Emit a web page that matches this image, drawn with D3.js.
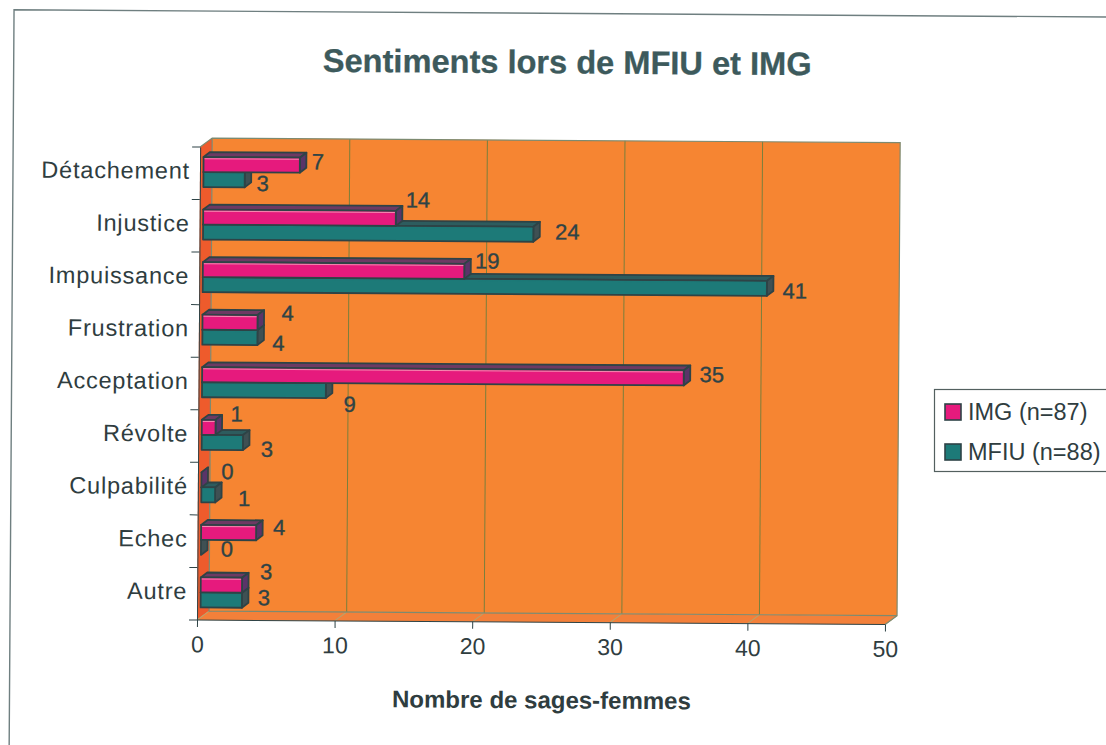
<!DOCTYPE html>
<html><head><meta charset="utf-8">
<script src="https://cdn.jsdelivr.net/npm/d3@7"></script>
<style>html,body{margin:0;background:#fff}svg{display:block}text{font-family:"Liberation Sans",Arial,sans-serif}</style>
</head><body><svg id="c" width="1106" height="745"></svg>
<script>
const categories=["Détachement","Injustice","Impuissance","Frustration","Acceptation","Révolte","Culpabilité","Echec","Autre"];
const imgValues=[7,14,19,4,35,1,0,4,3];
const mfiuValues=[3,24,41,4,9,3,1,0,3];
const seriesNames=["IMG (n=87)","MFIU (n=88)"];
const xTicks=[0,10,20,30,40,50];
// label nudges relative to the default bar-end placement
const imgNudge=[[0,-3],[4,-18],[5,-10],[12,-9],[10,-3],[3,-13],[8,-8],[5,-5],[6,-13]];
const mfiuNudge=[[0,4],[16,-2],[10,3],[3,6],[6,14],[6,7],[11,4],[8,2],[4,-2]];

const svg=d3.select("#c");
const root=svg.append("g").attr("transform","rotate(0.38 197 620)");
const L=197,R=885,T=147,B=620,DX=12,DY=-9;
const x=d3.scaleLinear().domain([0,50]).range([L,R]);
const y=d3.scaleBand().domain(categories).range([T,B]);
const ink="#2e4346";
const textInk="#2f3d3f";

// page frame
root.append("path").attr("d","M1200 11H10V760").attr("fill","none").attr("stroke","#6f7f80").attr("stroke-width",1.4);

// title
root.append("text").attr("x",563.5).attr("y",71).attr("text-anchor","middle").attr("font-size",32.6).attr("font-weight","bold")
 .attr("fill","#3d5a5c").attr("stroke","#3d5a5c").attr("stroke-width",.3).text("Sentiments lors de MFIU et IMG");

// 3D walls
const poly=pts=>pts.map(p=>p.join(",")).join(" ");
root.append("polygon").attr("points",poly([[L+DX,T+DY],[R+DX,T+DY],[R+DX,B+DY],[L+DX,B+DY]])).attr("fill","#f68532");
root.append("polygon").attr("points",poly([[L,T],[L+DX,T+DY],[L+DX,B+DY],[L,B]])).attr("fill","#ee5b2c");
root.append("polygon").attr("points",poly([[L,B],[L+DX,B+DY],[R+DX,B+DY],[R,B]])).attr("fill","#f3803a");
// gridlines on the back wall and floor
root.append("g").selectAll("line").data(xTicks.slice(1,-1)).join("line")
 .attr("x1",d=>x(d)+DX).attr("x2",d=>x(d)+DX).attr("y1",T+DY).attr("y2",B+DY).attr("stroke","#7a7f3c").attr("stroke-width",1);
root.append("g").selectAll("line").data(xTicks).join("line")
 .attr("x1",d=>x(d)).attr("x2",d=>x(d)+DX).attr("y1",B).attr("y2",B+DY).attr("stroke","#b9a26a").attr("stroke-width",1);
root.append("path").attr("d",`M${L} ${T}L${L+DX} ${T+DY}H${R+DX}V${B+DY}L${R} ${B}M${L+DX} ${T+DY}V${B+DY}H${R+DX}`)
 .attr("fill","none").attr("stroke","#7d8a70").attr("stroke-width",1.2);

// bars
const series=[
 {vals:imgValues,nudge:imgNudge,front:"#e61a7d",top:"#6d3a63",side:"#5a3468",hi:"#f48ab0",off:10},
 {vals:mfiuValues,nudge:mfiuNudge,front:"#1d7a78",top:"#2d5c5e",side:"#3f5053",hi:"#1d7a78",off:25}];
const barH=15,bdx=6.5,bdy=-5,inset=3.5;
const bars=root.append("g");
const labels=[];
categories.forEach((cat,i)=>{
 [series[1],series[0]].forEach(s=>{
  const v=s.vals[i];
  const x0=x(0)+inset, x1=x(v)+inset, y0=y(cat)+s.off, y1=y0+barH;
  const g=bars.append("g").attr("stroke",ink).attr("stroke-width",1.8).attr("stroke-linejoin","round");
  g.append("polygon").attr("points",poly([[x0,y0],[x0+bdx,y0+bdy],[x1+bdx,y0+bdy],[x1,y0]])).attr("fill",s.top);
  g.append("polygon").attr("points",poly([[x1,y0],[x1+bdx,y0+bdy],[x1+bdx,y1+bdy],[x1,y1]])).attr("fill",s.side);
  if(v>0){
   g.append("rect").attr("x",x0).attr("y",y0).attr("width",x1-x0).attr("height",barH).attr("fill",s.front);
   g.append("line").attr("x1",x0+1).attr("x2",x1-1).attr("y1",y0+1.6).attr("y2",y0+1.6).attr("stroke",s.hi).attr("stroke-width",1);
  }
  labels.push({v,x:x1+bdx+11.5+s.nudge[i][0],y:y0+barH/2+7+s.nudge[i][1]});
 });
});
root.append("g").selectAll("text").data(labels).join("text")
 .attr("x",d=>d.x).attr("y",d=>d.y).attr("text-anchor","middle").attr("font-size",22)
 .attr("fill",ink).attr("stroke",ink).attr("stroke-width",.35).text(d=>d.v);

// axes
const ax=root.append("g").attr("transform",`translate(0,${B})`)
 .call(d3.axisBottom(x).tickValues(xTicks).tickSize(7).tickPadding(9));
const ay=root.append("g").attr("transform",`translate(${L},-2)`)
 .call(d3.axisLeft(y).tickSize(0).tickPadding(10));
ay.select(".domain").attr("stroke",ink).attr("transform","translate(0,2)");
ax.select(".domain").attr("stroke",ink).attr("d",`M${L},0H${R}`);
ax.selectAll("line").attr("stroke",ink);
ax.selectAll("text").attr("font-size",23).attr("fill",textInk).attr("font-family","Liberation Sans");
ay.selectAll("text").attr("font-size",23.5).attr("fill",textInk).attr("font-family","Liberation Sans").attr("letter-spacing",.8);
root.append("g").selectAll("line").data(d3.range(categories.length+1)).join("line")
 .attr("x1",L-8).attr("x2",L).attr("y1",d=>T+d*y.step()).attr("y2",d=>T+d*y.step()).attr("stroke",ink);

root.append("text").attr("x",542).attr("y",706).attr("text-anchor","middle").attr("font-size",24).attr("font-weight","bold")
 .attr("fill",textInk).text("Nombre de sages-femmes");

// legend
const leg=svg.append("g");
leg.append("rect").attr("x",934.5).attr("y",389.5).attr("width",180).attr("height",82).attr("fill","#fff").attr("stroke","#53605f").attr("stroke-width",1.2);
seriesNames.forEach((n,i)=>{
 const gy=404+i*40;
 leg.append("rect").attr("x",945).attr("y",gy).attr("width",16).attr("height",16).attr("fill",series[i].front).attr("stroke",ink).attr("stroke-width",1.6);
 leg.append("text").attr("x",968).attr("y",gy+16).attr("font-size",23.5).attr("fill",textInk).text(n);
});
</script></body></html>
